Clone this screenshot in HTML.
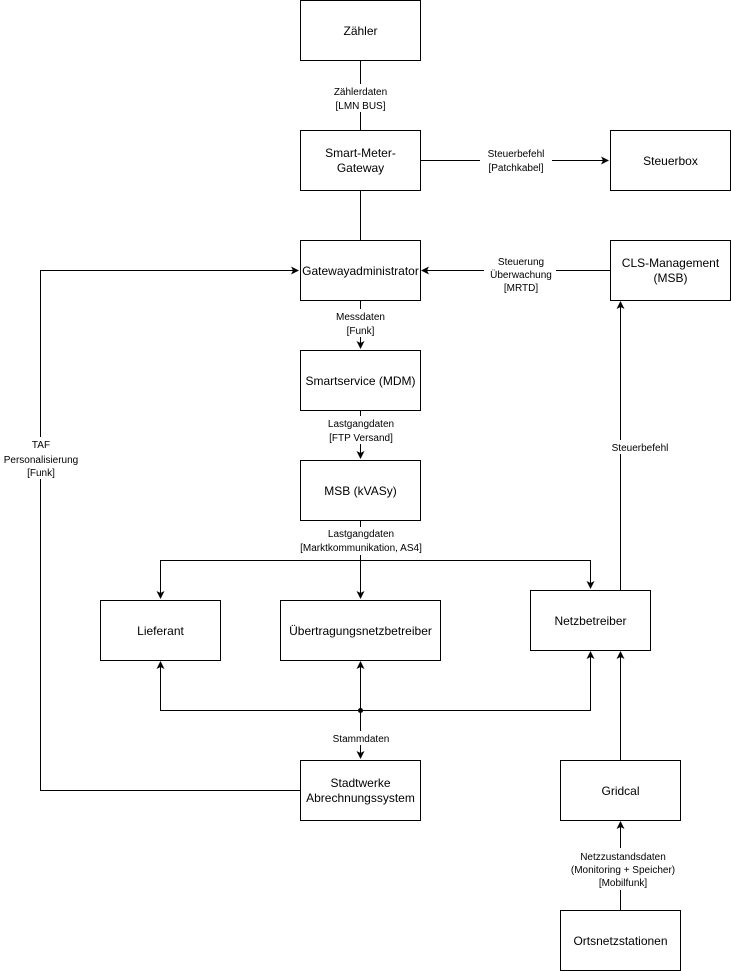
<!DOCTYPE html>
<html><head><meta charset="utf-8"><style>
html,body{margin:0;padding:0;background:#fff}
svg{display:block}
text{font-family:"Liberation Sans",Arial,sans-serif;fill:#000}
.b{font-size:12px}
.l{font-size:10px}
</style></head><body>
<svg width="731" height="971" viewBox="0 0 731 971" xmlns="http://www.w3.org/2000/svg">
<defs>
<marker id="a" markerWidth="10" markerHeight="10" refX="7" refY="4" orient="auto" markerUnits="userSpaceOnUse">
<path d="M0,0 L8,4 L0,8 L2,4 Z" fill="#000"/>
</marker>
</defs>
<g stroke="#000" stroke-width="1" fill="none">
<!-- lines -->
<path d="M360.5 60 V130"/>
<path d="M420 160.5 H608" marker-end="url(#a)"/>
<path d="M360.5 190 V240"/>
<path d="M610 270.5 H422" marker-end="url(#a)"/>
<path d="M300 790.5 H40.5 V270.5 H298" marker-end="url(#a)"/>
<path d="M360.5 300 V348" marker-end="url(#a)"/>
<path d="M360.5 410 V458" marker-end="url(#a)"/>
<path d="M360.5 520 V598" marker-end="url(#a)"/>
<path d="M360.5 560.5 H160.5 V598" marker-end="url(#a)"/>
<path d="M360.5 560.5 H590.5 V588" marker-end="url(#a)"/>
<path d="M620.5 590 V302" marker-end="url(#a)"/>
<path d="M360.5 710 V662" marker-end="url(#a)"/>
<path d="M360.5 710.5 H160.5 V662" marker-end="url(#a)"/>
<path d="M360.5 710.5 H590.5 V652" marker-end="url(#a)"/>
<path d="M360.5 710 V758" marker-end="url(#a)"/>
<path d="M620.5 760 V652" marker-end="url(#a)"/>
<path d="M620.5 910 V822" marker-end="url(#a)"/>
<!-- boxes -->
<g fill="#fff">
<rect x="300.5" y="0.5" width="120" height="60"/>
<rect x="300.5" y="130.5" width="120" height="60"/>
<rect x="610.5" y="130.5" width="120" height="60"/>
<rect x="300.5" y="240.5" width="120" height="60"/>
<rect x="610.5" y="240.5" width="120" height="60"/>
<rect x="300.5" y="350.5" width="120" height="60"/>
<rect x="300.5" y="460.5" width="120" height="60"/>
<rect x="100.5" y="600.5" width="120" height="60"/>
<rect x="280.5" y="600.5" width="160" height="60"/>
<rect x="530.5" y="590.5" width="120" height="60"/>
<rect x="300.5" y="760.5" width="120" height="60"/>
<rect x="560.5" y="760.5" width="120" height="60"/>
<rect x="560.5" y="910.5" width="120" height="60"/>
</g>
</g>
<circle cx="360.5" cy="710.5" r="2.5" fill="#000"/>
<!-- label backgrounds -->
<g fill="#fff">
<rect x="308" y="84" width="104" height="28"/>
<rect x="480" y="146" width="72" height="28"/>
<rect x="484" y="254" width="72" height="40"/>
<rect x="328" y="309" width="64" height="28"/>
<rect x="322" y="416" width="78" height="28"/>
<rect x="290" y="527" width="142" height="28"/>
<rect x="0" y="437" width="82" height="42"/>
<rect x="606" y="440" width="66" height="14"/>
<rect x="326" y="731" width="70" height="14"/>
<rect x="562" y="848" width="120" height="42"/>
</g>
<g class="b" text-anchor="middle">
<text x="360.5" y="35">Zähler</text>
<text x="360.5" y="157">Smart-Meter-</text>
<text x="360.5" y="172">Gateway</text>
<text x="670.5" y="165">Steuerbox</text>
<text x="360.5" y="275">Gatewayadministrator</text>
<text x="670.5" y="267">CLS-Management</text>
<text x="670.5" y="282">(MSB)</text>
<text x="360.5" y="385">Smartservice (MDM)</text>
<text x="360.5" y="495">MSB (kVASy)</text>
<text x="160.5" y="635">Lieferant</text>
<text x="360.5" y="635">Übertragungsnetzbetreiber</text>
<text x="590.5" y="625">Netzbetreiber</text>
<text x="360.5" y="787">Stadtwerke</text>
<text x="360.5" y="802">Abrechnungssystem</text>
<text x="620.5" y="795">Gridcal</text>
<text x="620.5" y="945">Ortsnetzstationen</text>
</g>
<g class="l" text-anchor="middle">
<text x="360.5" y="95">Zählerdaten</text>
<text x="360.5" y="109">[LMN BUS]</text>
<text x="516" y="157">Steuerbefehl</text>
<text x="516" y="171">[Patchkabel]</text>
<text x="521" y="265">Steuerung</text>
<text x="521" y="278">Überwachung</text>
<text x="521" y="291">[MRTD]</text>
<text x="360.5" y="320">Messdaten</text>
<text x="360.5" y="334">[Funk]</text>
<text x="361" y="427">Lastgangdaten</text>
<text x="361" y="441">[FTP Versand]</text>
<text x="361" y="537">Lastgangdaten</text>
<text x="361" y="551">[Marktkommunikation, AS4]</text>
<text x="41" y="448">TAF</text>
<text x="41" y="463">Personalisierung</text>
<text x="41" y="476">[Funk]</text>
<text x="640" y="451">Steuerbefehl</text>
<text x="361" y="742">Stammdaten</text>
<text x="623" y="860">Netzzustandsdaten</text>
<text x="623" y="873">(Monitoring + Speicher)</text>
<text x="623" y="886">[Mobilfunk]</text>
</g>
</svg>
</body></html>
